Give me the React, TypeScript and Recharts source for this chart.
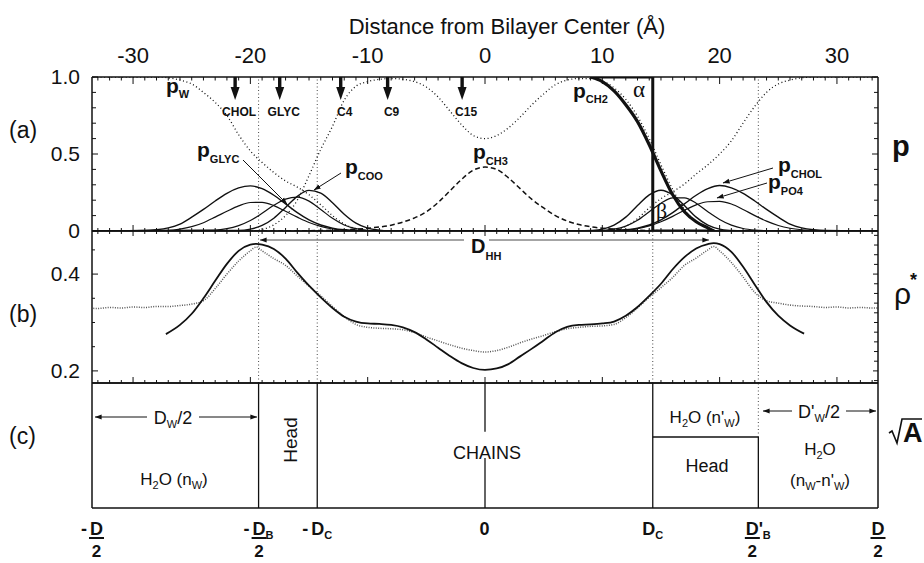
import { LineChart, Line, XAxis, YAxis, ReferenceLine, ReferenceDot } from 'recharts';

const FONT = '"Liberation Sans", Arial, Helvetica, sans-serif';
const SERIF = '"Liberation Serif", "Times New Roman", serif';
const INK = '#111111';
const GREY = '#4a4a4a';

// shared x axis: distance from bilayer center (Å)
const Z_DOMAIN: [number, number] = [-33.5, 33.5];
const Z_MAJOR = [-30, -20, -10, 0, 10, 20, 30];
const Z_LABELS: Record<string, string> = { '-30': '-30', '-20': '-20', '-10': '-10', '0': '0', '10': '10', '20': '20', '30': '30' };
const range = (from: number, to: number, step: number) => {
    const out: number[] = [];
    for (let v = from; v <= to + 1e-9; v += step) out.push(Math.round(v * 1000) / 1000);
    return out;
};
const Z_TICKS = range(-33, 33, 1);

// panel (a): probabilities
const P_TICKS = [0, 0.1, 0.2, 0.3, 0.4, 0.5, 0.6, 0.7, 0.8, 0.9, 1];
const P_LABELS: Record<string, string> = { '0': '0', '0.5': '0.5', '1': '1.0' };

const P_W = [
    [-34, 1], [-28, 1], [-27, 0.995], [-26, 0.98], [-25, 0.955], [-24, 0.9], [-23, 0.835], [-22, 0.75], [-21, 0.625],
    [-20, 0.52], [-19, 0.445], [-18, 0.38], [-17, 0.325], [-16, 0.285], [-15, 0.235], [-14, 0.17], [-13, 0.1],
    [-12, 0.045], [-11, 0.015], [-10, 0], [10, 0], [11, 0.01], [12, 0.03], [13, 0.08], [14, 0.15], [15, 0.21],
    [16, 0.255], [17, 0.305], [18, 0.37], [19, 0.43], [20, 0.5], [21, 0.585], [22, 0.7], [23, 0.81], [24, 0.9],
    [25, 0.955], [26, 0.98], [27, 0.995], [28, 1], [34, 1],
];
const P_CH2 = [
    [-34, 0], [-20, 0], [-19, 0.01], [-18, 0.04], [-17, 0.1], [-16, 0.2], [-15, 0.36], [-14, 0.53], [-13, 0.68],
    [-12, 0.85], [-11, 0.94], [-10, 0.97], [-9, 0.985], [-8, 0.99], [-7, 0.985], [-6, 0.97], [-5, 0.935], [-4, 0.87],
    [-3, 0.78], [-2, 0.69], [-1, 0.62], [0, 0.6], [1, 0.62], [2, 0.67], [3, 0.74], [4, 0.82], [5, 0.89], [6, 0.95],
    [7, 0.98], [8, 0.99], [9, 0.99], [10, 0.975], [11, 0.93], [12, 0.855], [13, 0.745], [14, 0.6], [15, 0.43],
    [16, 0.27], [17, 0.14], [18, 0.06], [19, 0.02], [20, 0], [34, 0],
];
const P_CH3 = [
    [-34, 0], [-17, 0], [-15, 0.002], [-13, 0.005], [-12, 0.008], [-11, 0.012], [-10, 0.018], [-9, 0.026], [-8, 0.038],
    [-7, 0.058], [-6, 0.085], [-5, 0.125], [-4, 0.185], [-3, 0.26], [-2, 0.335], [-1, 0.395], [0, 0.415], [1, 0.4],
    [2, 0.345], [3, 0.275], [4, 0.205], [5, 0.15], [6, 0.1], [7, 0.065], [8, 0.042], [9, 0.028], [10, 0.018],
    [11, 0.012], [12, 0.008], [13, 0.005], [15, 0.002], [17, 0], [34, 0],
];
const P_CHOL = [
    [-34, 0], [-29, 0.003], [-28, 0.008], [-27, 0.02], [-26, 0.045], [-25, 0.09], [-24, 0.14], [-23, 0.195],
    [-22, 0.245], [-21, 0.28], [-20, 0.293], [-19, 0.275], [-18, 0.232], [-17, 0.176], [-16, 0.119], [-15, 0.072],
    [-14, 0.039], [-13, 0.019], [-12, 0.008], [-11, 0.003], [-10, 0], [10, 0], [11, 0.003], [12, 0.008], [13, 0.019],
    [14, 0.039], [15, 0.072], [16, 0.119], [17, 0.176], [18, 0.232], [19, 0.275], [20, 0.295], [21, 0.28],
    [22, 0.245], [23, 0.195], [24, 0.14], [25, 0.09], [26, 0.045], [27, 0.02], [28, 0.008], [29, 0.003], [34, 0],
];
const P_PO4 = [
    [-34, 0], [-27, 0.004], [-26, 0.012], [-25, 0.028], [-24, 0.054], [-23, 0.09], [-22, 0.128], [-21, 0.163],
    [-20, 0.185], [-19, 0.186], [-18, 0.165], [-17, 0.128], [-16, 0.09], [-15, 0.055], [-14, 0.03], [-13, 0.013],
    [-12, 0.005], [-11, 0.001], [-10, 0], [10, 0], [11, 0.002], [12, 0.006], [13, 0.015], [14, 0.033], [15, 0.06],
    [16, 0.095], [17, 0.135], [18, 0.17], [19, 0.19], [20, 0.192], [21, 0.175], [22, 0.14], [23, 0.1], [24, 0.064],
    [25, 0.036], [26, 0.018], [27, 0.008], [28, 0.003], [34, 0],
];
const P_GLYC = [
    [-34, 0], [-23, 0.006], [-22, 0.015], [-21, 0.035], [-20, 0.068], [-19, 0.115], [-18, 0.167], [-17, 0.207],
    [-16, 0.22], [-15, 0.194], [-14, 0.14], [-13, 0.082], [-12, 0.039], [-11, 0.015], [-10, 0.005], [-9, 0], [9, 0],
    [10, 0.004], [11, 0.012], [12, 0.032], [13, 0.07], [14, 0.125], [15, 0.18], [16, 0.215], [17, 0.215], [18, 0.18],
    [19, 0.125], [20, 0.075], [21, 0.038], [22, 0.016], [23, 0.006], [24, 0.002], [34, 0],
];
const P_COO = [
    [-34, 0], [-21, 0.003], [-20, 0.012], [-19, 0.036], [-18, 0.083], [-17, 0.153], [-16, 0.225], [-15, 0.264],
    [-14, 0.246], [-13, 0.184], [-12, 0.109], [-11, 0.051], [-10, 0.019], [-9, 0.006], [-8, 0], [8, 0], [9, 0.003],
    [10, 0.012], [11, 0.038], [12, 0.09], [13, 0.165], [14, 0.235], [15, 0.265], [16, 0.235], [17, 0.165],
    [18, 0.09], [19, 0.038], [20, 0.012], [21, 0.003], [22, 0], [34, 0],
];
// fitted CH2 profile and its Gibbs dividing surface
const P_CH2_FIT = [
    [9, 1], [10, 0.97], [11, 0.91], [12, 0.82], [13, 0.71], [14, 0.56], [15, 0.39], [16, 0.235], [17, 0.125],
    [18, 0.06], [19, 0.02], [19.5, 0],
];
const GIBBS = [[9, 1], [14.3, 1], [14.3, 0], [19.5, 0]];

// atom positions marked by arrows
const MARKERS = ['CHOL', 'GLYC', 'C4', 'C9', 'C15'];
const MARKER_Z = [-21.3, -17.5, -12.3, -8.3, -1.95];

// panel (b): electron density
const RHO_DOMAIN: [number, number] = [0.175, 0.489];
const RHO_TICKS_L = [0.2, 0.25, 0.3, 0.35, 0.4, 0.45];
const RHO_TICKS_R = [0.18, 0.2, 0.22, 0.24, 0.26, 0.28, 0.3, 0.32, 0.34, 0.36, 0.38, 0.4, 0.42, 0.44, 0.46, 0.48];
const RHO_LABELS: Record<string, string> = { '0.2': '0.2', '0.4': '0.4' };

const RHO_MODEL = [
    [-27.2, 0.276], [-26, 0.295], [-25, 0.318], [-24, 0.35], [-23, 0.386], [-22, 0.421], [-21, 0.448], [-20, 0.461],
    [-19.5, 0.4625], [-19, 0.461], [-18, 0.452], [-17, 0.432], [-16, 0.403], [-15, 0.376], [-14, 0.352], [-13, 0.33],
    [-12, 0.312], [-11, 0.302], [-10, 0.298], [-9, 0.297], [-8, 0.295], [-7, 0.29], [-6, 0.28], [-5, 0.265],
    [-4, 0.248], [-3, 0.231], [-2, 0.216], [-1, 0.206], [0, 0.202], [1, 0.205], [2, 0.214], [3, 0.23], [4, 0.246],
    [5, 0.263], [6, 0.28], [7, 0.291], [8, 0.295], [9, 0.296], [10, 0.298], [11, 0.302], [12, 0.314], [13, 0.332],
    [14, 0.355], [15, 0.38], [16, 0.41], [17, 0.435], [18, 0.453], [19, 0.462], [19.5, 0.464], [20, 0.462],
    [21, 0.446], [22, 0.415], [23, 0.378], [24, 0.342], [25, 0.314], [26, 0.294], [27.2, 0.277],
];
const RHO_SIM = [
    [-34, 0.33], [-33, 0.329], [-32, 0.331], [-31, 0.33], [-30, 0.332], [-29, 0.331], [-28, 0.333], [-27, 0.333],
    [-26, 0.335], [-25, 0.338], [-24, 0.345], [-23, 0.37], [-22, 0.4], [-21, 0.427], [-20, 0.448], [-19.5, 0.456],
    [-19, 0.448], [-18, 0.432], [-17, 0.418], [-16, 0.396], [-15, 0.375], [-14, 0.355], [-13, 0.333], [-12, 0.312],
    [-11, 0.296], [-10, 0.29], [-9, 0.288], [-8, 0.287], [-7, 0.285], [-6, 0.279], [-5, 0.27], [-4, 0.262],
    [-3, 0.254], [-2, 0.247], [-1, 0.242], [0, 0.239], [1, 0.242], [2, 0.249], [3, 0.258], [4, 0.266], [5, 0.273],
    [6, 0.281], [7, 0.287], [8, 0.29], [9, 0.292], [10, 0.293], [11, 0.296], [12, 0.31], [13, 0.33], [14, 0.352],
    [15, 0.372], [16, 0.393], [17, 0.418], [18, 0.433], [19, 0.45], [19.5, 0.457], [20, 0.448], [21, 0.424],
    [22, 0.394], [23, 0.362], [24, 0.345], [25, 0.34], [26, 0.336], [27, 0.334], [28, 0.333], [29, 0.331],
    [30, 0.332], [31, 0.33], [32, 0.331], [33, 0.33], [34, 0.33],
];

// panel (c): slab boundaries
const BOUND_Z = [-33.5, -19.3, -14.3, 0, 14.3, 23.3, 33.5];
const BOUND_LABELS = ['-D/2', '-D_B/2', '-D_C', '0', 'D_C', "D'_B/2", 'D/2'];
const GUIDE_Z = [-19.3, -14.3, 23.3];
const HEAD_TOP = 0.568;
const CHAIN_GAP: [number, number] = [0.4, 0.61];

const rows = (pts: number[][]) => pts.map(([z, v]) => ({ z, v }));
const AXIS = { stroke: INK, strokeWidth: 1.5 };
const LINE = { xAxisId: 'bot', yAxisId: 'l', dataKey: 'v', dot: false, activeDot: false, isAnimationActive: false } as const;

type Side = 'top' | 'bottom' | 'left' | 'right';
function makeTick(side: Side, majors: number[], labels: Record<string, string> = {}, majorLen = 6, minorLen = 3) {
    return (props: any) => {
        const { x, y, payload } = props;
        const v = Number(payload?.value);
        const major = majors.some((m) => Math.abs(m - v) < 1e-6);
        const len = major ? majorLen : minorLen;
        const label = labels[String(Math.round(v * 1000) / 1000)];
        let x2 = x;
        let y2 = y;
        if (side === 'top') y2 = y + len;
        if (side === 'bottom') y2 = y - len;
        if (side === 'left') x2 = x + len;
        if (side === 'right') x2 = x - len;
        return (
            <g>
                <line x1={x} y1={y} x2={x2} y2={y2} stroke={INK} strokeWidth={1} />
                {label !== undefined && side === 'top' && (
                    <text x={x} y={y - 14} textAnchor="middle" fontFamily={FONT} fontSize={22} fill={INK}>{label}</text>
                )}
                {label !== undefined && side === 'left' && (
                    <text x={x - 12} y={y} dy="0.35em" textAnchor="end" fontFamily={FONT} fontSize={21} fill={INK}>{label}</text>
                )}
            </g>
        );
    };
}

const boundTick = (props: any) => {
    const { x, y, payload } = props;
    const idx = BOUND_Z.findIndex((b) => Math.abs(b - Number(payload?.value)) < 1e-6);
    const raw = BOUND_LABELS[idx] ?? '';
    const minus = raw.startsWith('-');
    let s = minus ? raw.slice(1) : raw;
    const frac = s.endsWith('/2');
    if (frac) s = s.slice(0, -2);
    const [main, sub] = s.split('_');
    const prime = main.includes("'");
    const mainW = main === '0' ? 11 : 13 + (prime ? 4 : 0);
    const total = (minus ? 9 : 0) + mainW + (sub ? 8 : 0);
    const start = x - total / 2;
    const dStart = start + (minus ? 9 : 0);
    const base = y + 27;
    const t = { fontFamily: FONT, fontWeight: 'bold' as const, fill: INK };
    return (
        <g>
            {minus && <text x={start} y={base} fontSize={18} {...t}>-</text>}
            <text x={dStart} y={base} fontSize={18} {...t}>{main}</text>
            {sub && <text x={dStart + mainW} y={base + 4} fontSize={11} {...t}>{sub}</text>}
            {frac && <rect x={dStart - 1} y={base + 2} width={15} height={2} fill={INK} />}
            {frac && <text x={dStart + 6.5} y={base + 22} textAnchor="middle" fontSize={17} {...t}>2</text>}
        </g>
    );
};

const layerArrow = (name: string) => (props: any) => {
    const { cx, cy } = props;
    return (
        <g>
            <rect x={cx - 1.7} y={cy} width={3.4} height={12} fill={INK} />
            <path d={`M${cx - 4.5},${cy + 10} L${cx + 4.5},${cy + 10} L${cx},${cy + 23} Z`} fill={INK} />
            <text x={cx + 4} y={cy + 39} textAnchor="middle" fontFamily={FONT} fontWeight="bold" fontSize={12} fill={INK}>{name}</text>
        </g>
    );
};

// axes are 1px thick boxes so that Recharts draws them; margins absorb that pixel
function xAxes(topTick: any, botTick: any) {
    const common = {
        type: 'number' as const, dataKey: 'z', domain: Z_DOMAIN, allowDataOverflow: true, interval: 0 as const,
        height: 1, tickSize: 0, tickMargin: 0, tickLine: false, axisLine: AXIS,
    };
    return [
        <XAxis key="t" xAxisId="top" orientation="top" ticks={topTick ? Z_TICKS : [0]} tick={topTick ?? false} {...common} />,
        <XAxis key="b" xAxisId="bot" orientation="bottom" ticks={botTick === boundTick ? BOUND_Z : botTick ? Z_TICKS : [0]} tick={botTick ?? false} {...common} />,
    ];
}

function yAxes(domain: [number, number], lTicks: number[] | undefined, lTick: any, rTicks: number[] | undefined, rTick: any) {
    const common = {
        type: 'number' as const, domain, allowDataOverflow: true, interval: 0 as const,
        width: 1, tickSize: 0, tickMargin: 0, tickLine: false, axisLine: AXIS,
    };
    return [
        <YAxis key="l" yAxisId="l" orientation="left" ticks={lTicks ?? [domain[0]]} tick={lTick ?? false} {...common} />,
        <YAxis key="r" yAxisId="r" orientation="right" ticks={rTicks ?? [domain[0]]} tick={rTick ?? false} {...common} />,
    ];
}

const MARGIN_X = { left: 91, right: 45 };

function PanelA() {
    return (
        <LineChart width={924} height={250} margin={{ top: 76, bottom: 18, ...MARGIN_X }}>
            {xAxes(makeTick('top', Z_MAJOR, Z_LABELS, 7, 3.5), makeTick('bottom', Z_MAJOR, {}, 6, 3))}
            {yAxes([0, 1], P_TICKS, makeTick('left', [0, 0.5, 1], P_LABELS, 6, 4), P_TICKS, makeTick('right', [0, 0.5, 1], {}, 6, 4))}
            {GUIDE_Z.map((z) => (
                <ReferenceLine key={z} xAxisId="bot" yAxisId="l" x={z} stroke={GREY} strokeWidth={1} strokeDasharray="1 2.5" />
            ))}
            <Line {...LINE} data={rows(P_W)} type="monotone" stroke={INK} strokeWidth={1.3} strokeDasharray="1 2.6" />
            <Line {...LINE} data={rows(P_CH2)} type="monotone" stroke={INK} strokeWidth={1.3} strokeDasharray="1 2.6" />
            <Line {...LINE} data={rows(P_CH3)} type="monotone" stroke={INK} strokeWidth={1.5} strokeDasharray="5 3" />
            <Line {...LINE} data={rows(P_CHOL)} type="monotone" stroke={INK} strokeWidth={1.4} />
            <Line {...LINE} data={rows(P_PO4)} type="monotone" stroke={INK} strokeWidth={1.2} />
            <Line {...LINE} data={rows(P_GLYC)} type="monotone" stroke={INK} strokeWidth={1.2} />
            <Line {...LINE} data={rows(P_COO)} type="monotone" stroke={INK} strokeWidth={1.4} />
            <Line {...LINE} data={rows(P_CH2_FIT)} type="monotone" stroke={INK} strokeWidth={3.2} />
            <Line {...LINE} data={rows(GIBBS)} type="linear" stroke={INK} strokeWidth={3} />
            {MARKERS.map((m, i) => (
                <ReferenceDot key={m} xAxisId="bot" yAxisId="l" x={MARKER_Z[i]} y={1} ifOverflow="visible" shape={layerArrow(m)} />
            ))}
        </LineChart>
    );
}

function PanelB() {
    return (
        <LineChart width={924} height={200} margin={{ top: 30, bottom: 16, ...MARGIN_X }}>
            {xAxes(makeTick('top', Z_MAJOR, {}, 5, 3), makeTick('bottom', Z_MAJOR, {}, 6, 3))}
            {yAxes(RHO_DOMAIN, RHO_TICKS_L, makeTick('left', [0.2, 0.4], RHO_LABELS, 6, 3), RHO_TICKS_R, makeTick('right', [0.2, 0.4], {}, 5, 4))}
            {[...GUIDE_Z, 14.3].map((z) => (
                <ReferenceLine key={z} xAxisId="bot" yAxisId="l" x={z} stroke={GREY} strokeWidth={1} strokeDasharray="1 2.5" />
            ))}
            <Line {...LINE} data={rows(RHO_SIM)} type="monotone" stroke="#555" strokeWidth={1.5} strokeDasharray="1 1.4" />
            <Line {...LINE} data={rows(RHO_MODEL)} type="monotone" stroke={INK} strokeWidth={1.8} />
        </LineChart>
    );
}

function PanelC() {
    const seg = (z: number, y1: number, y2: number, dashed = false) => (
        <ReferenceLine key={`${z}-${y1}`} xAxisId="bot" yAxisId="l" segment={[{ x: z, y: y1 }, { x: z, y: y2 }]}
            stroke={dashed ? GREY : INK} strokeWidth={dashed ? 1 : 1.3} strokeDasharray={dashed ? '1 2.5' : undefined} ifOverflow="visible" />
    );
    return (
        <LineChart width={924} height={203} margin={{ top: 22, bottom: 54, ...MARGIN_X }}>
            {xAxes(null, boundTick)}
            {yAxes([0, 1], undefined, null, undefined, null)}
            <Line {...LINE} data={BOUND_Z.map((z) => ({ z, v: 0 }))} type="linear" stroke="none" />
            {seg(BOUND_Z[1], 0, 1)}
            {seg(BOUND_Z[2], 0, 1)}
            {seg(BOUND_Z[3], CHAIN_GAP[1], 1)}
            {seg(BOUND_Z[3], 0, CHAIN_GAP[0])}
            {seg(BOUND_Z[4], 0, 1)}
            {seg(BOUND_Z[5], 0, HEAD_TOP)}
            {seg(BOUND_Z[5], HEAD_TOP, 1, true)}
            <ReferenceLine xAxisId="bot" yAxisId="l" segment={[{ x: BOUND_Z[4], y: HEAD_TOP }, { x: BOUND_Z[5], y: HEAD_TOP }]} stroke={INK} strokeWidth={1.3} />
        </LineChart>
    );
}

function PSym({ x, y, sub, size = 21, subSize = 11, dy = 6 }: { x: number; y: number; sub: string; size?: number; subSize?: number; dy?: number }) {
    return (
        <text x={x} y={y} fontFamily={FONT} fontWeight="bold" fontSize={size} fill={INK}>
            p<tspan fontSize={subSize} dy={dy}>{sub}</tspan>
        </text>
    );
}

function Overlay() {
    const txt = { fontFamily: FONT, fill: INK };
    return (
        <svg width={924} height={563} style={{ position: 'absolute', left: 0, top: 0, pointerEvents: 'none' }}>
            <defs>
                <marker id="ah" viewBox="0 0 10 10" refX="9.5" refY="5" markerWidth="7" markerHeight="7" orient="auto-start-reverse" markerUnits="userSpaceOnUse">
                    <path d="M0,1.5 L10,5 L0,8.5 z" fill={INK} />
                </marker>
            </defs>
            <text x={507} y={34} textAnchor="middle" fontSize={22} {...txt}>Distance from Bilayer Center (Å)</text>

            <text x={9} y={138} fontSize={23} {...txt}>(a)</text>
            <text x={9} y={322} fontSize={23} {...txt}>(b)</text>
            <text x={9} y={444} fontSize={23} {...txt}>(c)</text>

            <text x={892} y={156} fontSize={29} fontWeight="bold" {...txt}>p</text>
            <text x={894} y={304} fontSize={30} {...txt}>ρ</text>
            <text x={910} y={286} fontSize={18} fontWeight="bold" {...txt}>*</text>
            <path d="M889,433 L892,431 L897,443 L902,419 L922,419" stroke={INK} strokeWidth={1.6} fill="none" />
            <text x={903} y={442} fontSize={27} fontWeight="bold" {...txt}>A</text>

            {/* panel (a) labels */}
            <PSym x={166} y={93} sub="W" dy={5} />
            <PSym x={197} y={157} sub="GLYC" />
            <PSym x={345} y={174} sub="COO" />
            <PSym x={473} y={159} sub="CH3" />
            <PSym x={573} y={98} sub="CH2" dy={5} />
            <PSym x={778} y={172} sub="CHOL" />
            <PSym x={768} y={189} sub="PO4" />
            <text x={633} y={97} fontSize={23} fontFamily={SERIF} fill={INK}>α</text>
            <text x={656} y={218} fontSize={22} fontFamily={SERIF} fill={INK}>β</text>
            <line x1={243} y1={160} x2={287} y2={204} stroke={INK} strokeWidth={1} markerEnd="url(#ah)" />
            <line x1={341} y1={173} x2={314} y2={190} stroke={INK} strokeWidth={1} markerEnd="url(#ah)" />
            <line x1={773} y1={168} x2={723} y2={183} stroke={INK} strokeWidth={1} markerEnd="url(#ah)" />
            <line x1={767} y1={183} x2={717} y2={198} stroke={INK} strokeWidth={1} markerEnd="url(#ah)" />

            {/* panel (b) */}
            <line x1={464} y1={240} x2={260} y2={240} stroke={GREY} strokeWidth={1} markerEnd="url(#ah)" />
            <line x1={489} y1={240} x2={709} y2={240} stroke={GREY} strokeWidth={1} markerEnd="url(#ah)" />
            <text x={471} y={253} fontSize={20} fontWeight="bold" {...txt}>D<tspan fontSize={11} dy={7}>HH</tspan></text>

            {/* panel (c) */}
            <line x1={147} y1={417} x2={95} y2={417} stroke={INK} strokeWidth={1} markerEnd="url(#ah)" />
            <line x1={199} y1={417} x2={257} y2={417} stroke={INK} strokeWidth={1} markerEnd="url(#ah)" />
            <text x={173} y={424} textAnchor="middle" fontSize={18} {...txt}>D<tspan fontSize={11} dy={4}>W</tspan><tspan dy={-4}>/2</tspan></text>
            <text x={174} y={485} textAnchor="middle" fontSize={17} {...txt}>
                H<tspan fontSize={11} dy={4}>2</tspan><tspan dy={-4}>O (n</tspan><tspan fontSize={11} dy={4}>W</tspan><tspan dy={-4}>)</tspan>
            </text>
            <text transform="translate(297,440) rotate(-90)" textAnchor="middle" fontSize={19} {...txt}>Head</text>
            <text x={487} y={459} textAnchor="middle" fontSize={18} {...txt}>CHAINS</text>
            <text x={705} y={423} textAnchor="middle" fontSize={17} {...txt}>
                H<tspan fontSize={11} dy={4}>2</tspan><tspan dy={-4}>O (n'</tspan><tspan fontSize={11} dy={4}>W</tspan><tspan dy={-4}>)</tspan>
            </text>
            <text x={707} y={472} textAnchor="middle" fontSize={18} {...txt}>Head</text>
            <line x1={792} y1={411} x2={763} y2={411} stroke={INK} strokeWidth={1} markerEnd="url(#ah)" />
            <line x1={846} y1={411} x2={876} y2={411} stroke={INK} strokeWidth={1} markerEnd="url(#ah)" />
            <text x={819} y={418} textAnchor="middle" fontSize={18} {...txt}>D'<tspan fontSize={11} dy={4}>W</tspan><tspan dy={-4}>/2</tspan></text>
            <text x={820} y={455} textAnchor="middle" fontSize={17} {...txt}>H<tspan fontSize={11} dy={4}>2</tspan><tspan dy={-4}>O</tspan></text>
            <text x={820} y={486} textAnchor="middle" fontSize={17} {...txt}>
                (n<tspan fontSize={11} dy={4}>W</tspan><tspan dy={-4}>-n'</tspan><tspan fontSize={11} dy={4}>W</tspan><tspan dy={-4}>)</tspan>
            </text>
        </svg>
    );
}

export default function App() {
    return (
        <div style={{ position: 'absolute', left: 0, top: 0, width: 924, height: 563, background: '#fff', fontFamily: FONT }}>
            <div style={{ position: 'absolute', left: 0, top: 0 }}><PanelA /></div>
            <div style={{ position: 'absolute', left: 0, top: 200 }}><PanelB /></div>
            <div style={{ position: 'absolute', left: 0, top: 360 }}><PanelC /></div>
            <Overlay />
        </div>
    );
}
